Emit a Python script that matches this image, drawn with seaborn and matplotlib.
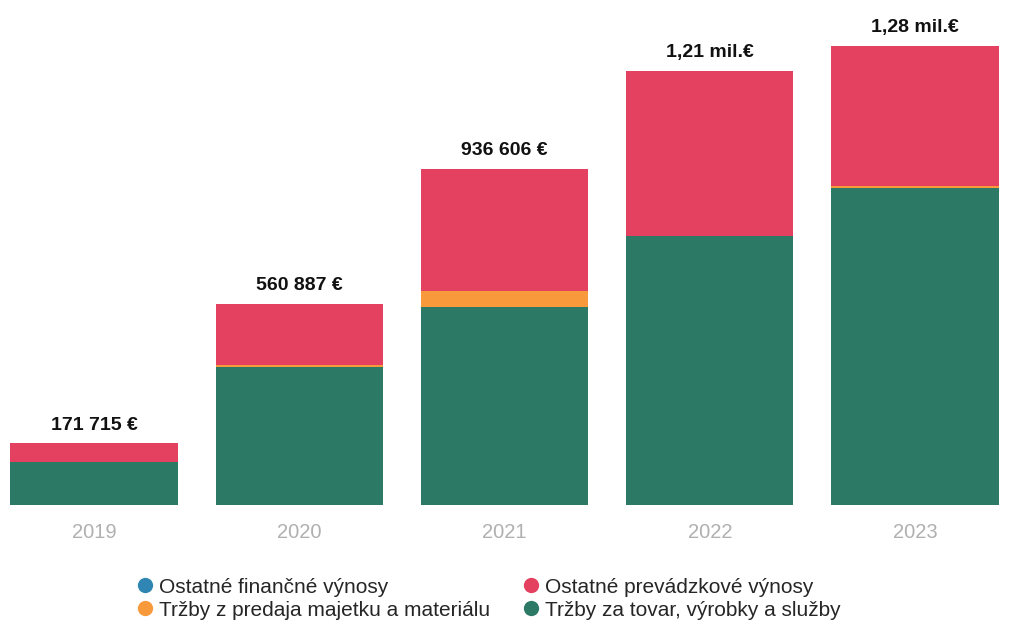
import matplotlib
matplotlib.use("Agg")
import matplotlib.pyplot as plt
from matplotlib.lines import Line2D
import seaborn as sns
import pandas as pd

years = ["2019", "2020", "2021", "2022", "2023"]
trzby_tovar = [120000, 385000, 552000, 750000, 884000]
trzby_majetok = [0, 5000, 45000, 0, 6000]
ostatne_prevadzkove = [51715, 170887, 339606, 460000, 390000]
ostatne_financne = [0, 0, 0, 0, 0]
total_labels = ["171 715 €", "560 887 €", "936 606 €", "1,21 mil.€", "1,28 mil.€"]

series_names = ["Ostatné finančné výnosy", "Tržby z predaja majetku a materiálu",
                "Ostatné prevádzkové výnosy", "Tržby za tovar, výrobky a služby"]
colors = {"Ostatné finančné výnosy": "#2f86b3",
          "Tržby z predaja majetku a materiálu": "#f89a3c",
          "Ostatné prevádzkové výnosy": "#e3415f",
          "Tržby za tovar, výrobky a služby": "#2c7965"}

df = pd.DataFrame({"year": years, "tovar": trzby_tovar, "majetok": trzby_majetok,
                   "prevadzkove": ostatne_prevadzkove, "financne": ostatne_financne})

sns.set_theme(style="white")
plt.rcParams['font.family'] = ['Liberation Sans', 'DejaVu Sans']

fig = plt.figure(figsize=(10.15, 6.26), dpi=100)
ax = fig.add_axes([0, 1 - 505 / 626, 1, 505 / 626])

# stacked from the bottom up
stack = [("tovar", "Tržby za tovar, výrobky a služby"),
         ("majetok", "Tržby z predaja majetku a materiálu"),
         ("prevadzkove", "Ostatné prevádzkové výnosy"),
         ("financne", "Ostatné finančné výnosy")]
bottom = [0] * len(years)
for col, name in stack:
    sns.barplot(data=df, x="year", y=col, bottom=bottom, color=colors[name],
                width=0.814, saturation=1, ax=ax, linewidth=0)
    bottom = [b + v for b, v in zip(bottom, df[col])]

for i, lab in enumerate(total_labels):
    ax.annotate(lab, (i, bottom[i]), xytext=(0, 7), textcoords="offset points",
                ha="center", va="bottom", fontsize=14, fontweight="bold", color="#111111")

ax.set_xlim(-0.458, 4.487)
ax.set_ylim(0, 1408000)
ax.set_xlabel("")
ax.set_ylabel("")
ax.set_yticks([])
ax.tick_params(axis="x", length=0, labelsize=14.5, labelcolor="#b0b0b0", pad=13)
for s in ax.spines.values():
    s.set_visible(False)

handles = [Line2D([0], [0], marker="o", linestyle="", markersize=11,
                  markerfacecolor=colors[n], markeredgewidth=0) for n in series_names]
fig.legend(handles, series_names, loc="upper left", bbox_to_anchor=(120 / 1015, 1 - 563 / 626),
           ncol=2, frameon=False, fontsize=15, handletextpad=0.15, columnspacing=1.5,
           labelspacing=0.2, handlelength=1.0, borderpad=0.2)

fig.savefig("out.png", dpi=100)
